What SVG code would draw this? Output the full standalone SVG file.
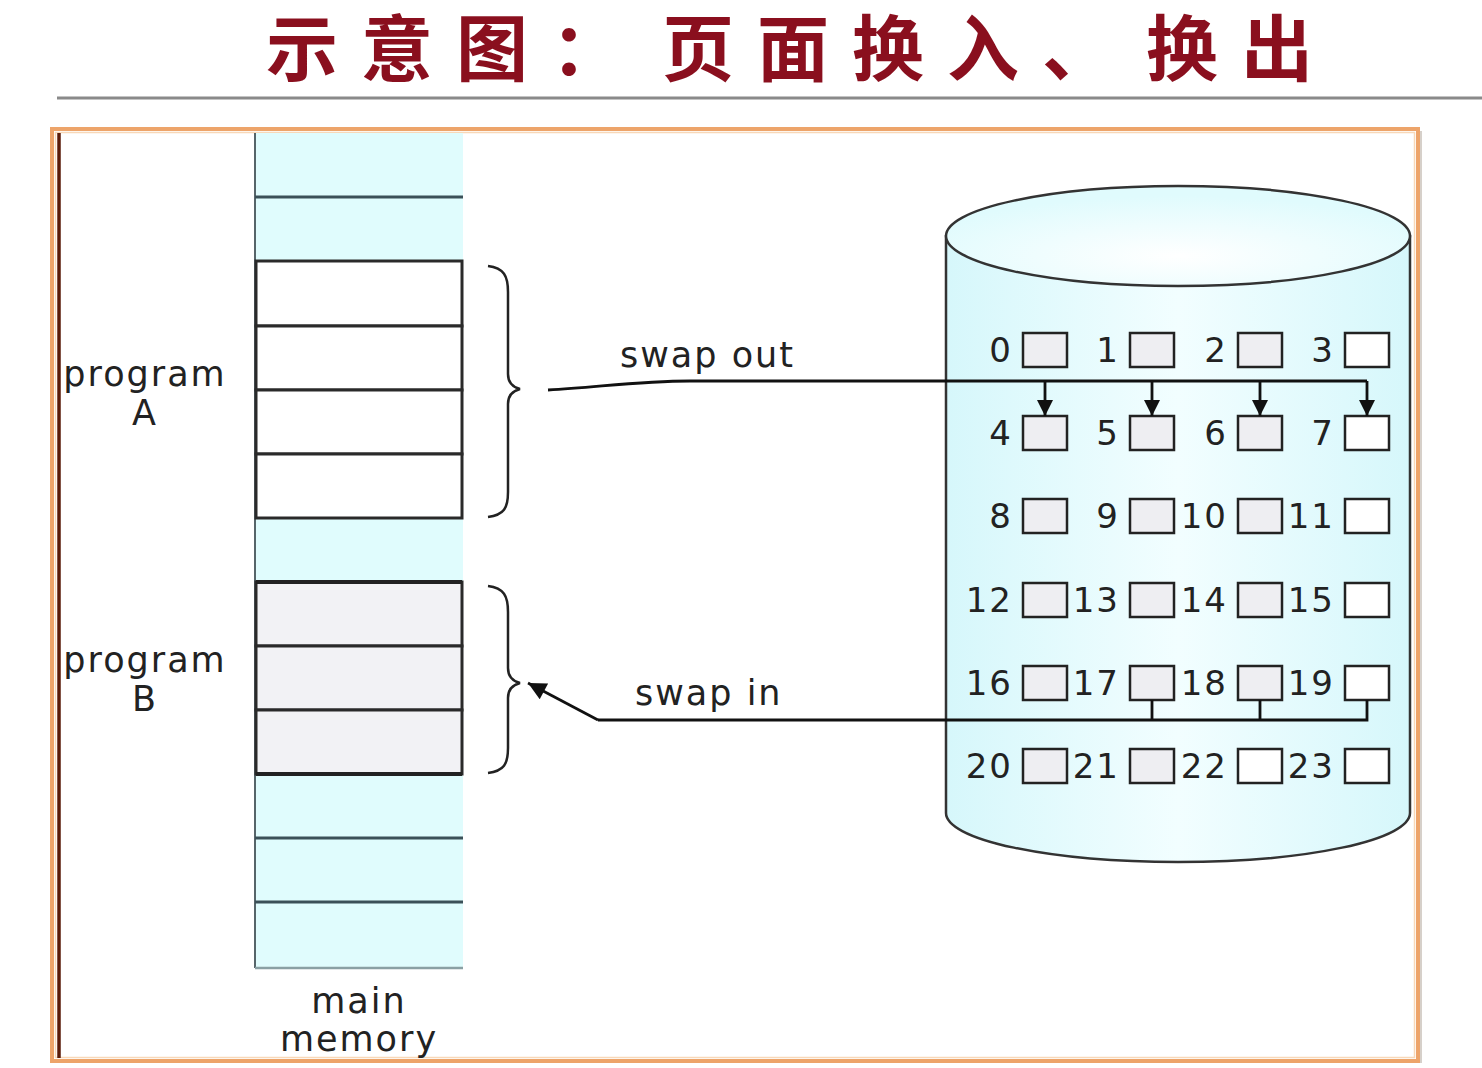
<svg xmlns="http://www.w3.org/2000/svg" width="1482" height="1068" viewBox="0 0 1482 1068">
<defs>
<style>
.lbl{font-family:"DejaVu Sans","Liberation Sans",sans-serif;font-size:35px;letter-spacing:2px;fill:#222}
.num{font-family:"DejaVu Sans","Liberation Sans",sans-serif;font-size:34px;letter-spacing:2px;fill:#222;text-anchor:end}
.ttl{font-family:"Noto Sans CJK SC","Noto Sans CJK TC",sans-serif;font-size:72px;font-weight:600;letter-spacing:23px;fill:#8a0f1e}
.cell{stroke:#2a2a2a;stroke-width:3}
.memline{stroke:#3b5058;stroke-width:3}
.blk{fill:#eeeef2;stroke:#222;stroke-width:2.5}
.blkw{fill:#ffffff;stroke:#222;stroke-width:2.5}
.con{fill:none;stroke:#111;stroke-width:2.8}
.brace{fill:none;stroke:#222;stroke-width:2.5}
</style>
<marker id="ah" viewBox="0 0 10 10" markerWidth="18" markerHeight="16" refX="10" refY="5" orient="auto" markerUnits="userSpaceOnUse">
<path d="M0,0 L10,5 L0,10 z" fill="#111"/>
</marker>
<marker id="ah2" viewBox="0 0 10 10" markerWidth="24" markerHeight="18" refX="10" refY="5" orient="auto" markerUnits="userSpaceOnUse">
<path d="M0,0 L10,5 L0,10 z" fill="#111"/>
</marker>
<linearGradient id="cylg" x1="0" y1="0" x2="1" y2="0">
<stop offset="0" stop-color="#d6f7fb"/>
<stop offset="0.5" stop-color="#f2feff"/>
<stop offset="1" stop-color="#d6f7fb"/>
</linearGradient>
<radialGradient id="topg" cx="0.5" cy="0.7" r="0.6">
<stop offset="0" stop-color="#ffffff"/>
<stop offset="1" stop-color="#e0fbfd"/>
</radialGradient>
</defs>
<rect width="1482" height="1068" fill="#ffffff"/>

<g id="title">
<text class="ttl" x="266" y="75">示意图：</text>
<text class="ttl" x="662" y="75">页面换入、</text>
<text class="ttl" x="1146" y="75">换出</text>
<line x1="57" y1="98" x2="1482" y2="98" stroke="#8a8a8a" stroke-width="3"/>
</g>

<g id="frame">
<rect x="52" y="129" width="1366" height="932" fill="none" stroke="#eda46a" stroke-width="4"/>
<rect x="55.5" y="132.5" width="1359" height="925" fill="none" stroke="#f8d8b8" stroke-width="1.5"/>
<line x1="59" y1="133" x2="59" y2="1058" stroke="#5a1a08" stroke-width="3.5"/>
<line x1="1421" y1="131" x2="1421" y2="1063" stroke="#c8c0b8" stroke-width="1.5"/>
</g>

<g id="main-memory">
<rect x="255" y="133" width="208" height="835" fill="#e0fcfd"/>
<line x1="255" y1="133" x2="255" y2="968" stroke="#56656a" stroke-width="2"/>
<line class="memline" x1="255" y1="197" x2="463" y2="197"/>
<line class="memline" x1="255" y1="838" x2="463" y2="838"/>
<line class="memline" x1="255" y1="902" x2="463" y2="902"/>
<line x1="255" y1="968" x2="463" y2="968" stroke="#8aa0a4" stroke-width="2.5"/>
<text class="lbl" x="359" y="1013" text-anchor="middle">main</text>
<text class="lbl" x="359" y="1051" text-anchor="middle">memory</text>
</g>

<g id="program-a">
<rect class="cell" x="256" y="261" width="206" height="65" fill="#ffffff"/>
<rect class="cell" x="256" y="326" width="206" height="64" fill="#ffffff"/>
<rect class="cell" x="256" y="390" width="206" height="64" fill="#ffffff"/>
<rect class="cell" x="256" y="454" width="206" height="64" fill="#ffffff"/>
<text class="lbl" x="145" y="386" text-anchor="middle">program</text>
<text class="lbl" x="145" y="425" text-anchor="middle">A</text>
<path class="brace" d="M488,266 C504,268 508,276 508,292 L508,374 C508,382 512,387 520,389 C512,391 508,396 508,404 L508,492 C508,508 504,515 488,517"/>
</g>

<g id="program-b">
<rect class="cell" x="256" y="582" width="206" height="64" fill="#f2f2f5"/>
<rect class="cell" x="256" y="646" width="206" height="64" fill="#f2f2f5"/>
<rect class="cell" x="256" y="710" width="206" height="64" fill="#f2f2f5"/>
<line x1="256" y1="582" x2="462" y2="582" stroke="#222" stroke-width="4"/>
<line x1="256" y1="774" x2="462" y2="774" stroke="#222" stroke-width="4"/>
<text class="lbl" x="145" y="672" text-anchor="middle">program</text>
<text class="lbl" x="145" y="711" text-anchor="middle">B</text>
<path class="brace" d="M488,586 C504,588 508,596 508,612 L508,668 C508,676 512,681 520,683 C512,685 508,690 508,698 L508,748 C508,764 504,771 488,773"/>
</g>

<g id="disk">
<path d="M946,236 L946,813 A232,49 0 0 0 1410,813 L1410,236 Z" fill="url(#cylg)" stroke="#333" stroke-width="2.5"/>
<ellipse cx="1178" cy="236" rx="232" ry="50" fill="url(#topg)" stroke="#333" stroke-width="2.5"/>
</g>

<g id="blocks">
<g id="b0"><text class="num" x="1013" y="362">0</text><rect class="blk" x="1023" y="333" width="44" height="34"/></g>
<g id="b1"><text class="num" x="1120" y="362">1</text><rect class="blk" x="1130" y="333" width="44" height="34"/></g>
<g id="b2"><text class="num" x="1228" y="362">2</text><rect class="blk" x="1238" y="333" width="44" height="34"/></g>
<g id="b3"><text class="num" x="1335" y="362">3</text><rect class="blkw" x="1345" y="333" width="44" height="34"/></g>
<g id="b4"><text class="num" x="1013" y="445">4</text><rect class="blk" x="1023" y="416" width="44" height="34"/></g>
<g id="b5"><text class="num" x="1120" y="445">5</text><rect class="blk" x="1130" y="416" width="44" height="34"/></g>
<g id="b6"><text class="num" x="1228" y="445">6</text><rect class="blk" x="1238" y="416" width="44" height="34"/></g>
<g id="b7"><text class="num" x="1335" y="445">7</text><rect class="blkw" x="1345" y="416" width="44" height="34"/></g>
<g id="b8"><text class="num" x="1013" y="528">8</text><rect class="blk" x="1023" y="499" width="44" height="34"/></g>
<g id="b9"><text class="num" x="1120" y="528">9</text><rect class="blk" x="1130" y="499" width="44" height="34"/></g>
<g id="b10"><text class="num" x="1228" y="528">10</text><rect class="blk" x="1238" y="499" width="44" height="34"/></g>
<g id="b11"><text class="num" x="1335" y="528">11</text><rect class="blkw" x="1345" y="499" width="44" height="34"/></g>
<g id="b12"><text class="num" x="1013" y="612">12</text><rect class="blk" x="1023" y="583" width="44" height="34"/></g>
<g id="b13"><text class="num" x="1120" y="612">13</text><rect class="blk" x="1130" y="583" width="44" height="34"/></g>
<g id="b14"><text class="num" x="1228" y="612">14</text><rect class="blk" x="1238" y="583" width="44" height="34"/></g>
<g id="b15"><text class="num" x="1335" y="612">15</text><rect class="blkw" x="1345" y="583" width="44" height="34"/></g>
<g id="b16"><text class="num" x="1013" y="695">16</text><rect class="blk" x="1023" y="666" width="44" height="34"/></g>
<g id="b17"><text class="num" x="1120" y="695">17</text><rect class="blk" x="1130" y="666" width="44" height="34"/></g>
<g id="b18"><text class="num" x="1228" y="695">18</text><rect class="blk" x="1238" y="666" width="44" height="34"/></g>
<g id="b19"><text class="num" x="1335" y="695">19</text><rect class="blkw" x="1345" y="666" width="44" height="34"/></g>
<g id="b20"><text class="num" x="1013" y="778">20</text><rect class="blk" x="1023" y="749" width="44" height="34"/></g>
<g id="b21"><text class="num" x="1120" y="778">21</text><rect class="blk" x="1130" y="749" width="44" height="34"/></g>
<g id="b22"><text class="num" x="1228" y="778">22</text><rect class="blkw" x="1238" y="749" width="44" height="34"/></g>
<g id="b23"><text class="num" x="1335" y="778">23</text><rect class="blkw" x="1345" y="749" width="44" height="34"/></g>
</g>

<g id="connectors">
<path class="con" d="M548,390 C600,387 640,381 690,381 L1367,381"/>
<line class="con" x1="1045" y1="381" x2="1045" y2="416" marker-end="url(#ah)"/>
<line class="con" x1="1152" y1="381" x2="1152" y2="416" marker-end="url(#ah)"/>
<line class="con" x1="1260" y1="381" x2="1260" y2="416" marker-end="url(#ah)"/>
<line class="con" x1="1367" y1="381" x2="1367" y2="416" marker-end="url(#ah)"/>
<text class="lbl" x="620" y="367">swap out</text>
<path class="con" d="M1152,700 L1152,720 M1260,700 L1260,720 M1367,700 L1367,720 L598,720"/>
<line class="con" x1="598" y1="720" x2="528" y2="683" marker-end="url(#ah2)"/>
<text class="lbl" x="635" y="705">swap in</text>
</g>
</svg>
